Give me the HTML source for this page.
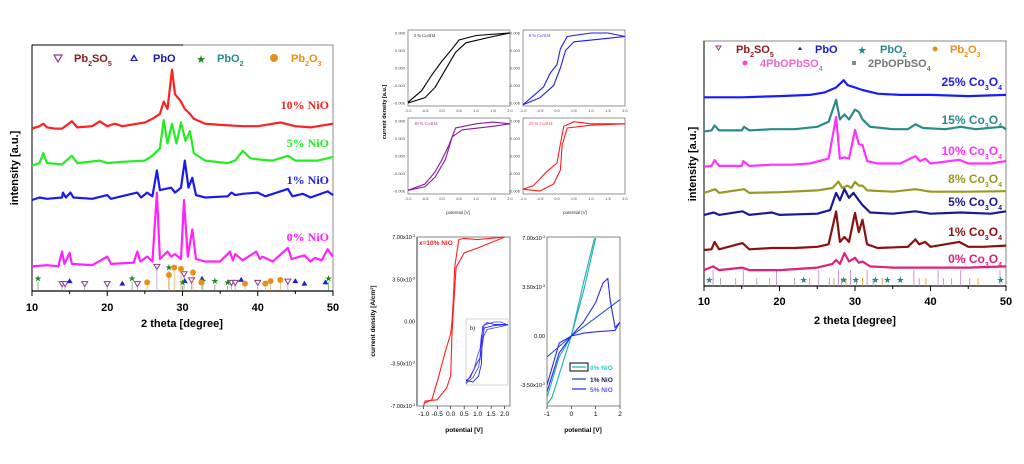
<!DOCTYPE html>
<html><head><meta charset="utf-8"><style>
body{margin:0;background:#fff}
svg{display:block}
text{font-family:"Liberation Sans",sans-serif}
.serif{font-family:"Liberation Serif",serif}
</style></head><body>
<svg id="fig" width="1024" height="464" viewBox="0 0 1024 464" xmlns="http://www.w3.org/2000/svg"></svg>
<script>
// ---------- data: left XRD (NiO) ----------
const leftTicks=[10,20,30,40,50];
const leftNames=["10% NiO","5% NiO","1% NiO","0% NiO"];
const left10=[[10,66],[11,67],[11.5,68],[12,66.5],[13,66],[14,66],[15.3,69],[16,66.5],[18,67],[19,69],[20,67],[21,68],[22,67],[24,68],[25,68.5],[26,70],[27,72],[27.5,77],[28,74],[28.6,90],[29,80],[29.8,77],[30.3,74],[31,72],[31.5,70],[33,68],[35,67.5],[38,67],[40,67],[43,68.5],[45,67],[47,66.5],[48,67],[50,68]];
const left5=[[10,51],[11,52],[11.5,56],[12,52],[14,51.5],[15.3,55],[16,52],[19,53],[20,52],[22,52.5],[25,53],[26,55],[27,58],[27.5,69.5],[28,60],[28.6,68],[29.2,60],[29.8,68.5],[30.4,61],[31,65],[31.5,56],[33,53],[36,52],[37,53],[38,57],[39,54],[40,53.5],[42,53],[44,55],[45,53],[48,53],[50,54.5]];
const left1=[[10,37],[11,38],[12,37.5],[14,38],[14.1,40],[14.5,38],[15.1,40],[15.5,38],[18,37.5],[20,39],[20.5,37.5],[24,40],[24.5,38],[25.3,40],[26,38.5],[26.6,49],[27,41],[28.5,42],[29,40],[29.8,42],[30.3,53],[30.8,42],[31.3,46],[31.8,39],[33,38],[36,38.5],[36.5,40],[37,39],[38,39.5],[40,40],[41,38.5],[44,41.5],[44.6,38.5],[46,39.5],[47,38],[49.3,40.5],[50,39]];
const left0=[[10,10],[12,10.5],[13.5,10],[14,16],[14.3,11],[15,15.5],[15.3,11],[18,10.5],[20,14],[20.5,11],[23.5,11.5],[24,16],[24.4,12],[25.3,14],[26,12],[26.6,40],[27,13],[28,16],[28.5,14],[29,15],[29.8,13],[30.2,37],[30.7,14],[31.3,25],[31.8,13],[33,12],[35,12],[36.3,16],[36.7,12.5],[37,15],[38,12.5],[39.8,16],[40.3,13],[40.6,14],[42,12],[44,17.5],[44.5,13],[46.2,14.5],[47,12],[47.6,13.5],[48.5,12.5],[49.3,17],[50,14]];
const leftTri=[[14,1],[14.4,1],[17,1],[20,1],[24,1],[26.6,8],[30.2,5],[31.2,2.5],[36.5,1.5],[37,1.5],[40,1.5],[44,2]];
const leftUp=[[15,2],[22,1],[30.3,2],[32.6,3],[37.8,2.5],[45,2],[46.2,1],[49,1.5]];
const leftStar=[[10.8,3],[23.3,3],[28.2,7.5],[30,1.5],[32.7,2],[34.3,2],[36,1.5],[49.4,3]];
const leftPent=[[25.3,1.5],[28.2,4.5],[28.9,7.5],[29.8,7],[31.4,5.5],[32.5,1.5],[38.3,1],[41,1],[41.7,2],[43,2.5]];
// ---------- data: right XRD (Co3O4) ----------
const rightNames=["25% Co","15% Co","10% Co","8% Co","5% Co","1% Co","0% Co"];
const r25=[[10,77],[15,77],[20,77.5],[24,78],[26,79],[27.5,81],[28.5,84],[29,82],[30,81],[31,80],[33,78.5],[36,78],[40,78],[45,77.5],[50,78]];
const r15=[[10,63],[11,63.5],[11.4,65.5],[12,63.5],[15,63.5],[15.3,65],[16,63.5],[19,64],[22,64],[25,65],[26.5,67],[27.5,76],[28,68],[28.6,70],[29.2,68],[30,72],[30.5,71],[31,68],[32,65],[35,64],[37,64],[38,66],[39,64.5],[42,64],[44,65],[46,64],[49.5,65],[50,64]];
const r10=[[10,48.7],[11,49],[11.4,51.4],[12,49],[15,49],[15.2,51],[16,49],[19,49.5],[21.5,49.5],[24,50],[26.5,52],[27.5,69],[28,52],[28.6,52.5],[29.2,52],[30,63.7],[30.5,58],[31,57.5],[31.6,51],[33,50],[36,50],[38,53],[38.6,51],[39.3,52],[40,50],[43.8,51.5],[45,50],[48,50],[50,51]];
const r8=[[10,38],[11.5,39.5],[12,38],[15.3,39.5],[16,38],[20,38.3],[25,39],[27,40],[27.8,42.6],[28.3,40],[29,41],[29.5,40],[30,42.5],[30.5,41],[31,41],[31.6,39],[35,38.5],[38,39.5],[40,38.5],[45,38.5],[50,38.7]];
const r5=[[10,29],[11.3,30],[12,29],[15.1,30.5],[16,29],[19,30],[20,29],[25,29.5],[26.7,31],[27.5,38],[28,35],[28.6,39.5],[29.2,36],[29.8,38],[30.5,35],[31,33],[32,30],[35,29.5],[38,30.5],[40,29.5],[44,30],[48,29.5],[50,30.5]];
const r1=[[10,14.7],[11,15],[11.4,18],[12,15],[15.1,17.5],[16,15],[19,15.5],[22,15.5],[25,16],[26.5,17],[27.5,30.4],[28,18],[28.6,20],[29.2,18],[30,29.8],[30.5,22],[31,27],[31.6,17],[33,15.5],[37,16],[38,19],[38.5,17],[39.3,18],[40,16],[43.8,18],[45,16],[47,16],[50,16.5]];
const r0=[[10,6.5],[11.2,8],[12,6.5],[15,7.5],[16,6.5],[20,6.5],[25,7.5],[27,9],[27.5,10.6],[28,9],[28.6,13.4],[29.2,10],[30,11.5],[30.5,9.5],[31,10],[32,8],[35,7.5],[40,7.5],[45,7.5],[50,8]];
const rightStars=[10.7,23.2,28.5,30.1,32.7,34.3,36,49.3];
const rightSticks=[11.2,12.2,14.2,15.2,17,18.7,19.6,22,24,25.2,26.6,27.2,27.8,28.2,28.8,29.4,30.2,31,31.6,32.4,33.6,37.8,38.5,39.4,41,41.7,42.8,44,45.2,46.3,49.2];
// ---------- data: CV loops (normalized) ----------
const cvAfwd=[[-1,-1],[-0.5,-0.85],[-0.2,-0.55],[0.1,-0.05],[0.4,0.45],[0.7,0.72],[1.5,0.9],[2,1]];
const cvArev=[[2,1],[1,0.93],[0.5,0.8],[0.3,0.55],[0,0.2],[-0.3,-0.2],[-0.6,-0.65],[-1,-0.98]];
const cvBfwd=[[-1,-1.05],[-0.5,-0.85],[-0.1,-0.5],[0.1,0],[0.25,0.5],[0.5,0.75],[1.5,0.85],[2,0.9]];
const cvBrev=[[2,0.9],[1.5,1],[1,1],[0.3,0.9],[0.1,0.55],[0,0.1],[-0.2,-0.15],[-0.4,-0.55],[-1,-1.05]];
const cvCfwd=[[-1,-0.98],[-0.5,-0.88],[-0.2,-0.6],[0.1,-0.1],[0.3,0.55],[0.6,0.75],[1.5,0.85],[2,0.92]];
const cvCrev=[[2,0.92],[1.5,0.97],[1,0.92],[0.4,0.8],[0.2,0.3],[0,-0.1],[-0.2,-0.45],[-0.5,-0.8],[-1,-0.98]];
const cvDfwd=[[-1,-0.95],[-0.5,-1],[-0.1,-0.8],[0.1,-0.4],[0.15,0.3],[0.3,0.8],[1,0.88],[2,0.92]];
const cvDrev=[[2,0.92],[1,0.92],[0.5,0.98],[0.2,0.85],[0.1,0.35],[0,-0.2],[-0.3,-0.45],[-0.7,-0.85],[-1,-0.95]];
const niRev=[[2,7],[1,6.8],[0.5,6.9],[0.3,6.8],[0.15,4.5],[0.1,2],[0.05,0],[0,-1],[-0.2,-2.5],[-0.5,-5],[-0.7,-6.5],[-1,-6.8]];
const niFwd=[[-1,-7],[-0.95,-6.6],[-0.5,-6.5],[-0.15,-5.5],[0,-4.5],[0.05,-1],[0.1,1],[0.2,4.5],[0.3,4.9],[0.5,5.7],[1,6.1],[2,7]];
const cyan=[[-1,-4.9],[-0.8,-4.4],[-0.4,-2.2],[0,0],[0.5,3.2],[1,7]];
const cyan2=[[-1,-4.4],[-0.5,-1.5],[0,0],[0.5,3.8],[0.95,7]];
const blueLine=[[-1,-1.5],[0,0],[2,2.6]];
const blueLoop=[[-1,-3.5],[-0.5,-0.5],[0,0],[0.5,0.2],[1,0.3],[1.8,0.4],[2,1],[1.8,0.6],[1.6,2.5],[1.5,4.1],[1.3,3.8],[1,2.4],[0.5,1],[0,0],[-0.5,-1.2],[-1,-4]];
const rightYLabels=["7.00x10","3.50x10","0.00","-3.50x10"];
const rightYVals=[7,3.5,0,-3.5];

const svg=document.getElementById('fig');
const NS="http://www.w3.org/2000/svg";
function el(tag,attrs,parent){const e=document.createElementNS(NS,tag);for(const k in attrs)e.setAttribute(k,attrs[k]);(parent||svg).appendChild(e);return e;}
function txt(x,y,s,attrs,parent){const t=el('text',Object.assign({x:x,y:y},attrs),parent);t.textContent=s;return t;}
function pathOf(pts,fx,fy){return pts.map((p,i)=>(i?'L':'M')+fx(p[0]).toFixed(1)+','+fy(p[1]).toFixed(1)).join('');}

// ===== Left chart =====
const xL=v=>32+(v-10)/40*301, yL=v=>291-v*2.46;
const gL=el('g',{});


const boxL=el('rect',{x:32,y:45,width:301,height:246,fill:'none',stroke:'#888','stroke-width':1},gL);


el('line',{x1:32,y1:45,x2:183,y2:45,stroke:'#000','stroke-width':1},gL);
el('line',{x1:32,y1:291,x2:333,y2:291,stroke:'#000','stroke-width':1.2},gL);
el('line',{x1:32,y1:45,x2:32,y2:291,stroke:'#000','stroke-width':1},gL);
for(let v=10;v<=50;v+=5){el('line',{x1:xL(v),y1:291,x2:xL(v),y2:v%10==0?296:294,stroke:'#000'},gL);}
leftTicks.forEach(v=>{const t=txt(xL(v),311,String(v),{'text-anchor':'middle','font-size':11,'font-weight':'bold'},gL);

});
const xtL=txt(182,327,'2 theta [degree]',{'text-anchor':'middle','font-size':11,'font-weight':'bold'},gL);


const ytL=txt(0,0,'intensity [a.u.]',{'text-anchor':'middle','font-size':11,'font-weight':'bold',transform:'translate(18,168) rotate(-90)'},gL);


function stick(g,x,h,col,fx,fy){el('line',{x1:fx(x),y1:fy(0),x2:fx(x),y2:fy(h)+2,stroke:col,'stroke-width':0.8,opacity:0.7},g);}
leftTri.forEach(p=>{stick(gL,p[0],p[1]+1.5,'#a070b0',xL,yL);const m=el('path',{d:`M${xL(p[0])-3},${yL(p[1]+2)-2}h6l-3,5z`,fill:'#fff',stroke:'#8a3a8a'},gL);

});
leftUp.forEach(p=>{const m=el('path',{d:`M${xL(p[0])-3},${yL(p[1]+2)+2}h6l-3,-5z`,fill:'#2020cc'},gL);

});
leftStar.forEach(p=>{stick(gL,p[0],p[1]+1.5,'#2a8a2a',xL,yL);const m=txt(xL(p[0]),yL(p[1]+2)+3,'★',{'text-anchor':'middle','font-size':9,fill:'#1a8a1a'},gL);

});
leftPent.forEach(p=>{stick(gL,p[0],p[1]+1.5,'#e09030',xL,yL);const m=el('circle',{cx:xL(p[0]),cy:yL(p[1]+2),r:3,fill:'#e8901a'},gL);

});
[[left10,'#ff2020'],[left5,'#22ee22'],[left1,'#1a1aee'],[left0,'#ff22ff']].forEach((s,i)=>{
 const p=el('path',{d:pathOf(s[0],xL,yL),fill:'none',stroke:s[1],'stroke-width':2.2,'stroke-linejoin':'round'},gL);
 
 
});
[[leftNames[0],109,'#ff2020'],[leftNames[1],147,'#22ee22'],[leftNames[2],184,'#1a1aee'],[leftNames[3],241,'#ff22ff']].forEach(l=>{
 const t=txt(329,l[1],l[0],{'text-anchor':'end','font-size':12,'font-weight':'bold',fill:l[2],class:'serif'},gL);
 
 
});
const lgL=el('g',{},gL);


el('path',{d:'M54,55h8l-4,7z',fill:'none',stroke:'#8a3a8a','stroke-width':1.2},lgL);
const t1=txt(74,62,'Pb',{'font-size':11,'font-weight':'bold',fill:'#8b1a1a'},lgL);el('tspan',{'baseline-shift':'sub','font-size':7},t1).textContent='2';t1.appendChild(document.createTextNode('SO'));el('tspan',{'baseline-shift':'sub','font-size':7},t1).textContent='5';
el('path',{d:'M130,61h8l-4,-7z',fill:'#2020cc'},lgL);el('path',{d:'M132,60h4l-2,-3z',fill:'#fff'},lgL);
txt(153,62,'PbO',{'font-size':11,'font-weight':'bold',fill:'#1a1aaa'},lgL);
txt(201,63,'★',{'text-anchor':'middle','font-size':11,fill:'#1a8a1a'},lgL);
const t2=txt(217,62,'PbO',{'font-size':11,'font-weight':'bold',fill:'#2a8a8a'},lgL);el('tspan',{'baseline-shift':'sub','font-size':7},t2).textContent='2';
el('circle',{cx:274,cy:58,r:4,fill:'#e8901a'},lgL);
const t3=txt(291,62,'Pb',{'font-size':11,'font-weight':'bold',fill:'#e8901a'},lgL);el('tspan',{'baseline-shift':'sub','font-size':7},t3).textContent='2';t3.appendChild(document.createTextNode('O'));el('tspan',{'baseline-shift':'sub','font-size':7},t3).textContent='3';

// ===== Right chart =====
const xR=v=>704+(v-10)/40*302, yR=v=>286-v*2.45;
const gR=el('g',{});


el('rect',{x:704,y:41,width:302,height:245,fill:'none',stroke:'#888','stroke-width':1},gR);
el('line',{x1:704,y1:286,x2:1006,y2:286,stroke:'#000','stroke-width':1.2},gR);
el('line',{x1:704,y1:41,x2:704,y2:286,stroke:'#000','stroke-width':1},gR);
for(let v=10;v<=50;v+=5){el('line',{x1:xR(v),y1:286,x2:xR(v),y2:v%10==0?291:289,stroke:'#000'},gR);}
leftTicks.forEach(v=>{const t=txt(xR(v),305,String(v),{'text-anchor':'middle','font-size':11,'font-weight':'bold'},gR);

});
const xtR=txt(855,324,'2 theta [degree]',{'text-anchor':'middle','font-size':11,'font-weight':'bold'},gR);


const ytR=txt(0,0,'intensity [a.u.]',{'text-anchor':'middle','font-size':11,'font-weight':'bold',transform:'translate(696,164) rotate(-90)'},gR);


rightSticks.forEach((x,i)=>{el('line',{x1:xR(x),y1:286,x2:xR(x),y2:286-(i%3==0?16:8),stroke:['#c080c0','#999','#e8901a'][i%3],'stroke-width':0.8},gR);});
rightStars.forEach(x=>{const m=txt(xR(x),283,'★',{'text-anchor':'middle','font-size':9,fill:'#1a8a8a'},gR);

});
const rCols=['#1a1aff','#2a8a8a','#ff33ff','#999922','#1a1a99','#8b1010','#e0207a'];
[r25,r15,r10,r8,r5,r1,r0].forEach((s,i)=>{
 const p=el('path',{d:pathOf(s,xR,yR),fill:'none',stroke:rCols[i],'stroke-width':2.2,'stroke-linejoin':'round'},gR);
 
 
});
const rLabY=[86,124,155,183,206,236,263];
rightNames.forEach((n,i)=>{
 const t=txt(1002,rLabY[i],n,{'text-anchor':'end','font-size':12,'font-weight':'bold',fill:rCols[i]},gR);
 el('tspan',{'baseline-shift':'sub','font-size':7},t).textContent='3';
 t.appendChild(document.createTextNode('O'));
 el('tspan',{'baseline-shift':'sub','font-size':7},t).textContent='4';
 
 
});
const lgR=el('g',{},gR);


el('path',{d:'M716,46h5l-2.5,4z',fill:'none',stroke:'#8a3a8a'},lgR);
const a1=txt(736,53,'Pb',{'font-size':11,'font-weight':'bold',fill:'#8b1a1a'},lgR);el('tspan',{'baseline-shift':'sub','font-size':7},a1).textContent='2';a1.appendChild(document.createTextNode('SO'));el('tspan',{'baseline-shift':'sub','font-size':7},a1).textContent='5';
el('path',{d:'M798,50h4l-2,-3.5z',fill:'#1a1a99'},lgR);
txt(815,53,'PbO',{'font-size':11,'font-weight':'bold',fill:'#1a1acc'},lgR);
txt(862,54,'★',{'text-anchor':'middle','font-size':11,fill:'#1a8a8a'},lgR);
const a2=txt(880,53,'PbO',{'font-size':11,'font-weight':'bold',fill:'#2a8a8a'},lgR);el('tspan',{'baseline-shift':'sub','font-size':7},a2).textContent='2';
el('circle',{cx:935,cy:49,r:2.5,fill:'#e8901a'},lgR);
const a3=txt(950,53,'Pb',{'font-size':11,'font-weight':'bold',fill:'#e8901a'},lgR);el('tspan',{'baseline-shift':'sub','font-size':7},a3).textContent='2';a3.appendChild(document.createTextNode('O'));el('tspan',{'baseline-shift':'sub','font-size':7},a3).textContent='3';
el('circle',{cx:745,cy:63,r:2.5,fill:'#ff44cc'},lgR);
const a4=txt(760,67,'4PbOPbSO',{'font-size':11,'font-weight':'bold',fill:'#ee66cc'},lgR);el('tspan',{'baseline-shift':'sub','font-size':7},a4).textContent='4';
el('rect',{x:852,y:61,width:4,height:4,fill:'#888'},lgR);
const a5=txt(868,67,'2PbOPbSO',{'font-size':11,'font-weight':'bold',fill:'#777'},lgR);el('tspan',{'baseline-shift':'sub','font-size':7},a5).textContent='4';

// ===== Middle: four small CV panels =====
const gM=el('g',{});


const panels=[[408,30,cvAfwd,cvArev,'#000','5 % Co3O4'],[523,30,cvBfwd,cvBrev,'#1a1aff','8 % Co3O4'],[408,118,cvCfwd,cvCrev,'#8a1a9a','10 % Co3O4'],[523,118,cvDfwd,cvDrev,'#ff1a1a','25 % Co3O4']];
const smallTicks=[-1,-0.5,0,0.5,1,1.5,2];
const smallY=[1,0.5,0,-0.5,-1];
const smallYLab=['0.006','0.003','0.000','-0.003','-0.006'];
panels.forEach(P=>{
 const [x0,y0,fw,rv,col,lab]=P, w=102, h=76;
 const fx=v=>x0+(v+1)/3*w, fy=v=>y0+h/2-v*h/2*0.92;
 const g=el('g',{},gM);
 
 
 el('rect',{x:x0,y:y0,width:w,height:h,fill:'none',stroke:'#666','stroke-width':0.7},g);
 smallTicks.forEach(v=>txt(fx(v),y0+h+6,v.toFixed(1),{'text-anchor':'middle','font-size':4,fill:'#444'},g));
 smallY.forEach((v,i)=>txt(x0-3,fy(v)+1.5,smallYLab[i],{'text-anchor':'end','font-size':4,fill:'#444'},g));
 el('path',{d:pathOf(fw,fx,fy),fill:'none',stroke:col,'stroke-width':1.1},g);
 el('path',{d:pathOf(rv,fx,fy),fill:'none',stroke:col,'stroke-width':1.1},g);
 txt(x0+6,y0+7,lab,{'font-size':4.5,fill:col,class:'serif'},g);
});
txt(458,214,'potential [V]',{'text-anchor':'middle','font-size':4.5,fill:'#333'},gM);
txt(575,214,'potential [V]',{'text-anchor':'middle','font-size':4.5,fill:'#333'},gM);
const cdy=txt(0,0,'current density [a.u.]',{'text-anchor':'middle','font-size':5.5,'font-weight':'bold',transform:'translate(386,112) rotate(-90)'},gM);



// ===== Bottom-left NiO CV =====
const gB=el('g',{});


const bx=v=>417+(v+1.25)/3.45*93, by=v=>321.5-v*12.05;
el('rect',{x:417,y:237,width:93,height:169,fill:'none',stroke:'#666','stroke-width':0.8},gB);
el('line',{x1:417,y1:237,x2:417,y2:406,stroke:'#999','stroke-width':2},gB);
[-1,-0.5,0,0.5,1,1.5,2].forEach(v=>{el('line',{x1:bx(v),y1:406,x2:bx(v),y2:409,stroke:'#000','stroke-width':0.6},gB);txt(bx(v),416,v.toFixed(1),{'text-anchor':'middle','font-size':6.5},gB);});
[[7,'7.00x10'],[3.5,'3.50x10'],[0,'0.00'],[-3.5,'-3.50x10'],[-7,'-7.00x10']].forEach(p=>{const t=txt(415,by(p[0])+2,p[1],{'text-anchor':'end','font-size':5.5},gB);if(p[0]!==0){el('tspan',{'baseline-shift':'super','font-size':3.5},t).textContent='-3';}});
txt(464,432,'potential [V]',{'text-anchor':'middle','font-size':6.5,'font-weight':'bold'},gB);
const cdb=el('text',{x:0,y:0,'text-anchor':'middle','font-size':6.5,'font-weight':'bold',transform:'translate(375,321) rotate(-90)'},gB);
cdb.textContent='current density [A/cm';el('tspan',{'baseline-shift':'super','font-size':4},cdb).textContent='2';cdb.appendChild(document.createTextNode(']'));


el('path',{d:pathOf(niRev,bx,by),fill:'none',stroke:'#ff2020','stroke-width':1.1},gB);
el('path',{d:pathOf(niFwd,bx,by),fill:'none',stroke:'#ff2020','stroke-width':1.1},gB);
txt(419,245,'x=10% NiO',{'font-size':6.5,'font-weight':'bold',fill:'#ff2020'},gB);
const ix=v=>466+(v+1)/3*42, iy=v=>352-v*30;
el('rect',{x:466,y:319,width:42,height:66,fill:'#fff',stroke:'#aaa','stroke-width':0.5},gB);
txt(470,330,'b)',{'font-size':6,class:'serif'},gB);
el('path',{d:pathOf(cvDfwd,ix,iy),fill:'none',stroke:'#2020ee','stroke-width':0.9},gB);
el('path',{d:pathOf(cvDrev,ix,iy),fill:'none',stroke:'#2020ee','stroke-width':0.9},gB);
el('path',{d:pathOf(cvBfwd,ix,iy),fill:'none',stroke:'#3a3aff','stroke-width':0.8},gB);
el('path',{d:pathOf(cvBrev,ix,iy),fill:'none',stroke:'#3a3aff','stroke-width':0.8},gB);

// ===== Bottom-right NiO CV =====
const gC=el('g',{});


const cx=v=>547+(v+1)/3*73, cy=v=>336-v*14;
el('rect',{x:547,y:237,width:73,height:169,fill:'none',stroke:'#666','stroke-width':0.8},gC);
[-1,0,1,2].forEach(v=>{el('line',{x1:cx(v),y1:406,x2:cx(v),y2:409,stroke:'#000','stroke-width':0.6},gC);txt(cx(v),416,String(v),{'text-anchor':'middle','font-size':6.5},gC);});
rightYVals.forEach((v,i)=>{const t=txt(545,cy(v)+2,rightYLabels[i],{'text-anchor':'end','font-size':5.5},gC);if(v!==0){el('tspan',{'baseline-shift':'super','font-size':3.5},t).textContent='-3';}});
txt(583,432,'potential [V]',{'text-anchor':'middle','font-size':6.5,'font-weight':'bold'},gC);
const clip=el('clipPath',{id:'cc'},gC);el('rect',{x:547,y:237,width:73,height:169},clip);
const gc2=el('g',{'clip-path':'url(#cc)'},gC);
el('path',{d:pathOf(cyan,cx,cy),fill:'none',stroke:'#20b0b0','stroke-width':1.1},gc2);
el('path',{d:pathOf(cyan2,cx,cy),fill:'none',stroke:'#20b0b0','stroke-width':1.1},gc2);
el('path',{d:pathOf(blueLine,cx,cy),fill:'none',stroke:'#1a5acc','stroke-width':1.1},gc2);
el('path',{d:pathOf(blueLoop,cx,cy),fill:'none',stroke:'#2a2aee','stroke-width':1.1},gc2);
const lgC=el('g',{},gC);


el('rect',{x:570,y:363,width:18,height:8,fill:'none',stroke:'#000','stroke-width':1},lgC);
el('line',{x1:572,y1:367,x2:586,y2:367,stroke:'#20b0b0','stroke-width':1.2},lgC);
txt(590,370,'0% NiO',{'font-size':6.5,'font-weight':'bold',fill:'#20d0d0'},lgC);
el('line',{x1:572,y1:379,x2:586,y2:379,stroke:'#1a3aaa','stroke-width':1.2},lgC);
txt(590,382,'1% NiO',{'font-size':6.5,'font-weight':'bold',fill:'#1a1a66'},lgC);
el('line',{x1:572,y1:389,x2:586,y2:389,stroke:'#7a7aff','stroke-width':2},lgC);
txt(590,392,'5% NiO',{'font-size':6.5,'font-weight':'bold',fill:'#5a5aff'},lgC);
</script>
</body></html>
